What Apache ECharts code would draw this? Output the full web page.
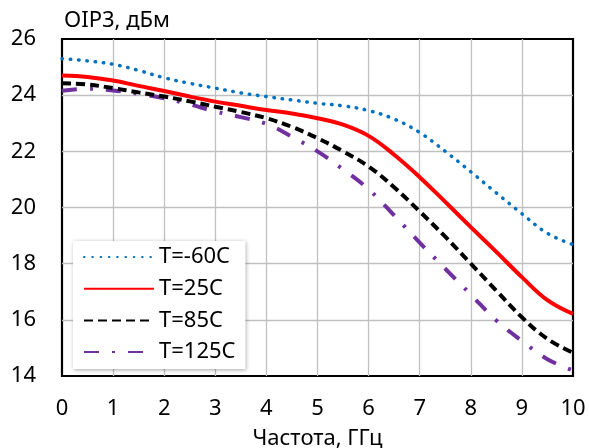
<!DOCTYPE html>
<html><head><meta charset="utf-8">
<script src="https://cdn.jsdelivr.net/npm/echarts@6/dist/echarts.min.js"></script>
<style>html,body{margin:0;padding:0;background:#fff}#c{width:589px;height:448px}</style>
</head><body><div id="c"></div>
<script>
const freq = [0,0.5,1,1.5,2,2.5,3,3.5,4,4.5,5,5.5,6,6.5,7,7.5,8,8.5,9,9.5,10];
const tM60 = [25.3,25.22,25.1,24.88,24.62,24.42,24.25,24.08,23.95,23.83,23.71,23.62,23.45,23.15,22.67,22.0,21.27,20.52,19.78,19.08,18.68];
const t25  = [24.7,24.65,24.52,24.33,24.15,23.95,23.77,23.62,23.47,23.35,23.18,22.95,22.55,21.88,21.08,20.2,19.3,18.42,17.52,16.7,16.21];
const t85  = [24.42,24.38,24.25,24.1,23.95,23.78,23.59,23.4,23.18,22.87,22.47,22.0,21.46,20.72,19.86,18.96,18.0,17.04,16.09,15.32,14.83];
const t125 = [24.16,24.23,24.17,24.05,23.89,23.67,23.42,23.22,22.98,22.52,22.0,21.36,20.65,19.72,18.75,17.82,16.9,15.98,15.25,14.6,14.2];
const names = ['T=-60C','T=25C','T=85C','T=125C'];
const yTicks = [14,16,18,20,22,24,26];
const xTicks = [0,1,2,3,4,5,6,7,8,9,10];

const F = 'Noto Sans';
const FS = 22;
const pairs = a => freq.map((x,i)=>[x,a[i]]);
const styles = [
  {color:'#0070C0', width:3.5, type:[0.5,7.8], cap:'round'},
  {color:'#FF0000', width:4, type:'solid', cap:'butt'},
  {color:'#000000', width:4, type:[9,5], cap:'butt'},
  {color:'#7030A0', width:4, type:[15,13,3,13], cap:'butt'}
];
const data = [tM60,t25,t85,t125];
const chart = echarts.init(document.getElementById('c'));
chart.setOption({
  animation:false,
  backgroundColor:'#fff',
  title:{text:'OIP3, дБм', left:59, top:5, textStyle:{fontFamily:F, fontSize:FS, fontWeight:'normal', color:'#000'}},
  grid:{left:62, right:16, top:39, bottom:72, containLabel:false, outerBoundsMode:'none',
        show:true, borderColor:'#000', borderWidth:2.2, backgroundColor:'transparent'},
  legend:{
    orient:'vertical', left:73, top:241, itemWidth:70, itemHeight:14, itemGap:7.7, itemTextGap:6,
    padding:[4,10,5,10], backgroundColor:'#fff',
    shadowBlur:4, shadowColor:'rgba(0,0,0,0.35)', shadowOffsetX:1, shadowOffsetY:1,
    itemStyle:{opacity:0},
    textStyle:{fontFamily:F, fontSize:FS, color:'#000', lineHeight:24},
    data:names
  },
  xAxis:{type:'value', min:0, max:10, interval:1,
    name:'Частота, ГГц', nameLocation:'middle', nameGap:52,
    nameTextStyle:{fontFamily:F, fontSize:FS, color:'#000'},
    axisLine:{show:false}, axisTick:{show:false},
    axisLabel:{fontFamily:F, fontSize:FS, color:'#000', margin:22},
    splitLine:{show:true, showMinLine:false, showMaxLine:false, lineStyle:{color:'#C0C0C0', width:1.3}}},
  yAxis:{type:'value', min:14, max:26, interval:2,
    axisLine:{show:false}, axisTick:{show:false},
    axisLabel:{fontFamily:F, fontSize:FS, color:'#000', margin:26},
    splitLine:{show:true, showMinLine:false, showMaxLine:false, lineStyle:{color:'#C0C0C0', width:1.3}}},
  series: names.map((n,i)=>({
    name:n, type:'line', data:pairs(data[i]), smooth:0.4, symbol:'none', showSymbol:false,
    lineStyle:styles[i], itemStyle:{color:styles[i].color}, z:10-i
  }))
});
</script></body></html>
